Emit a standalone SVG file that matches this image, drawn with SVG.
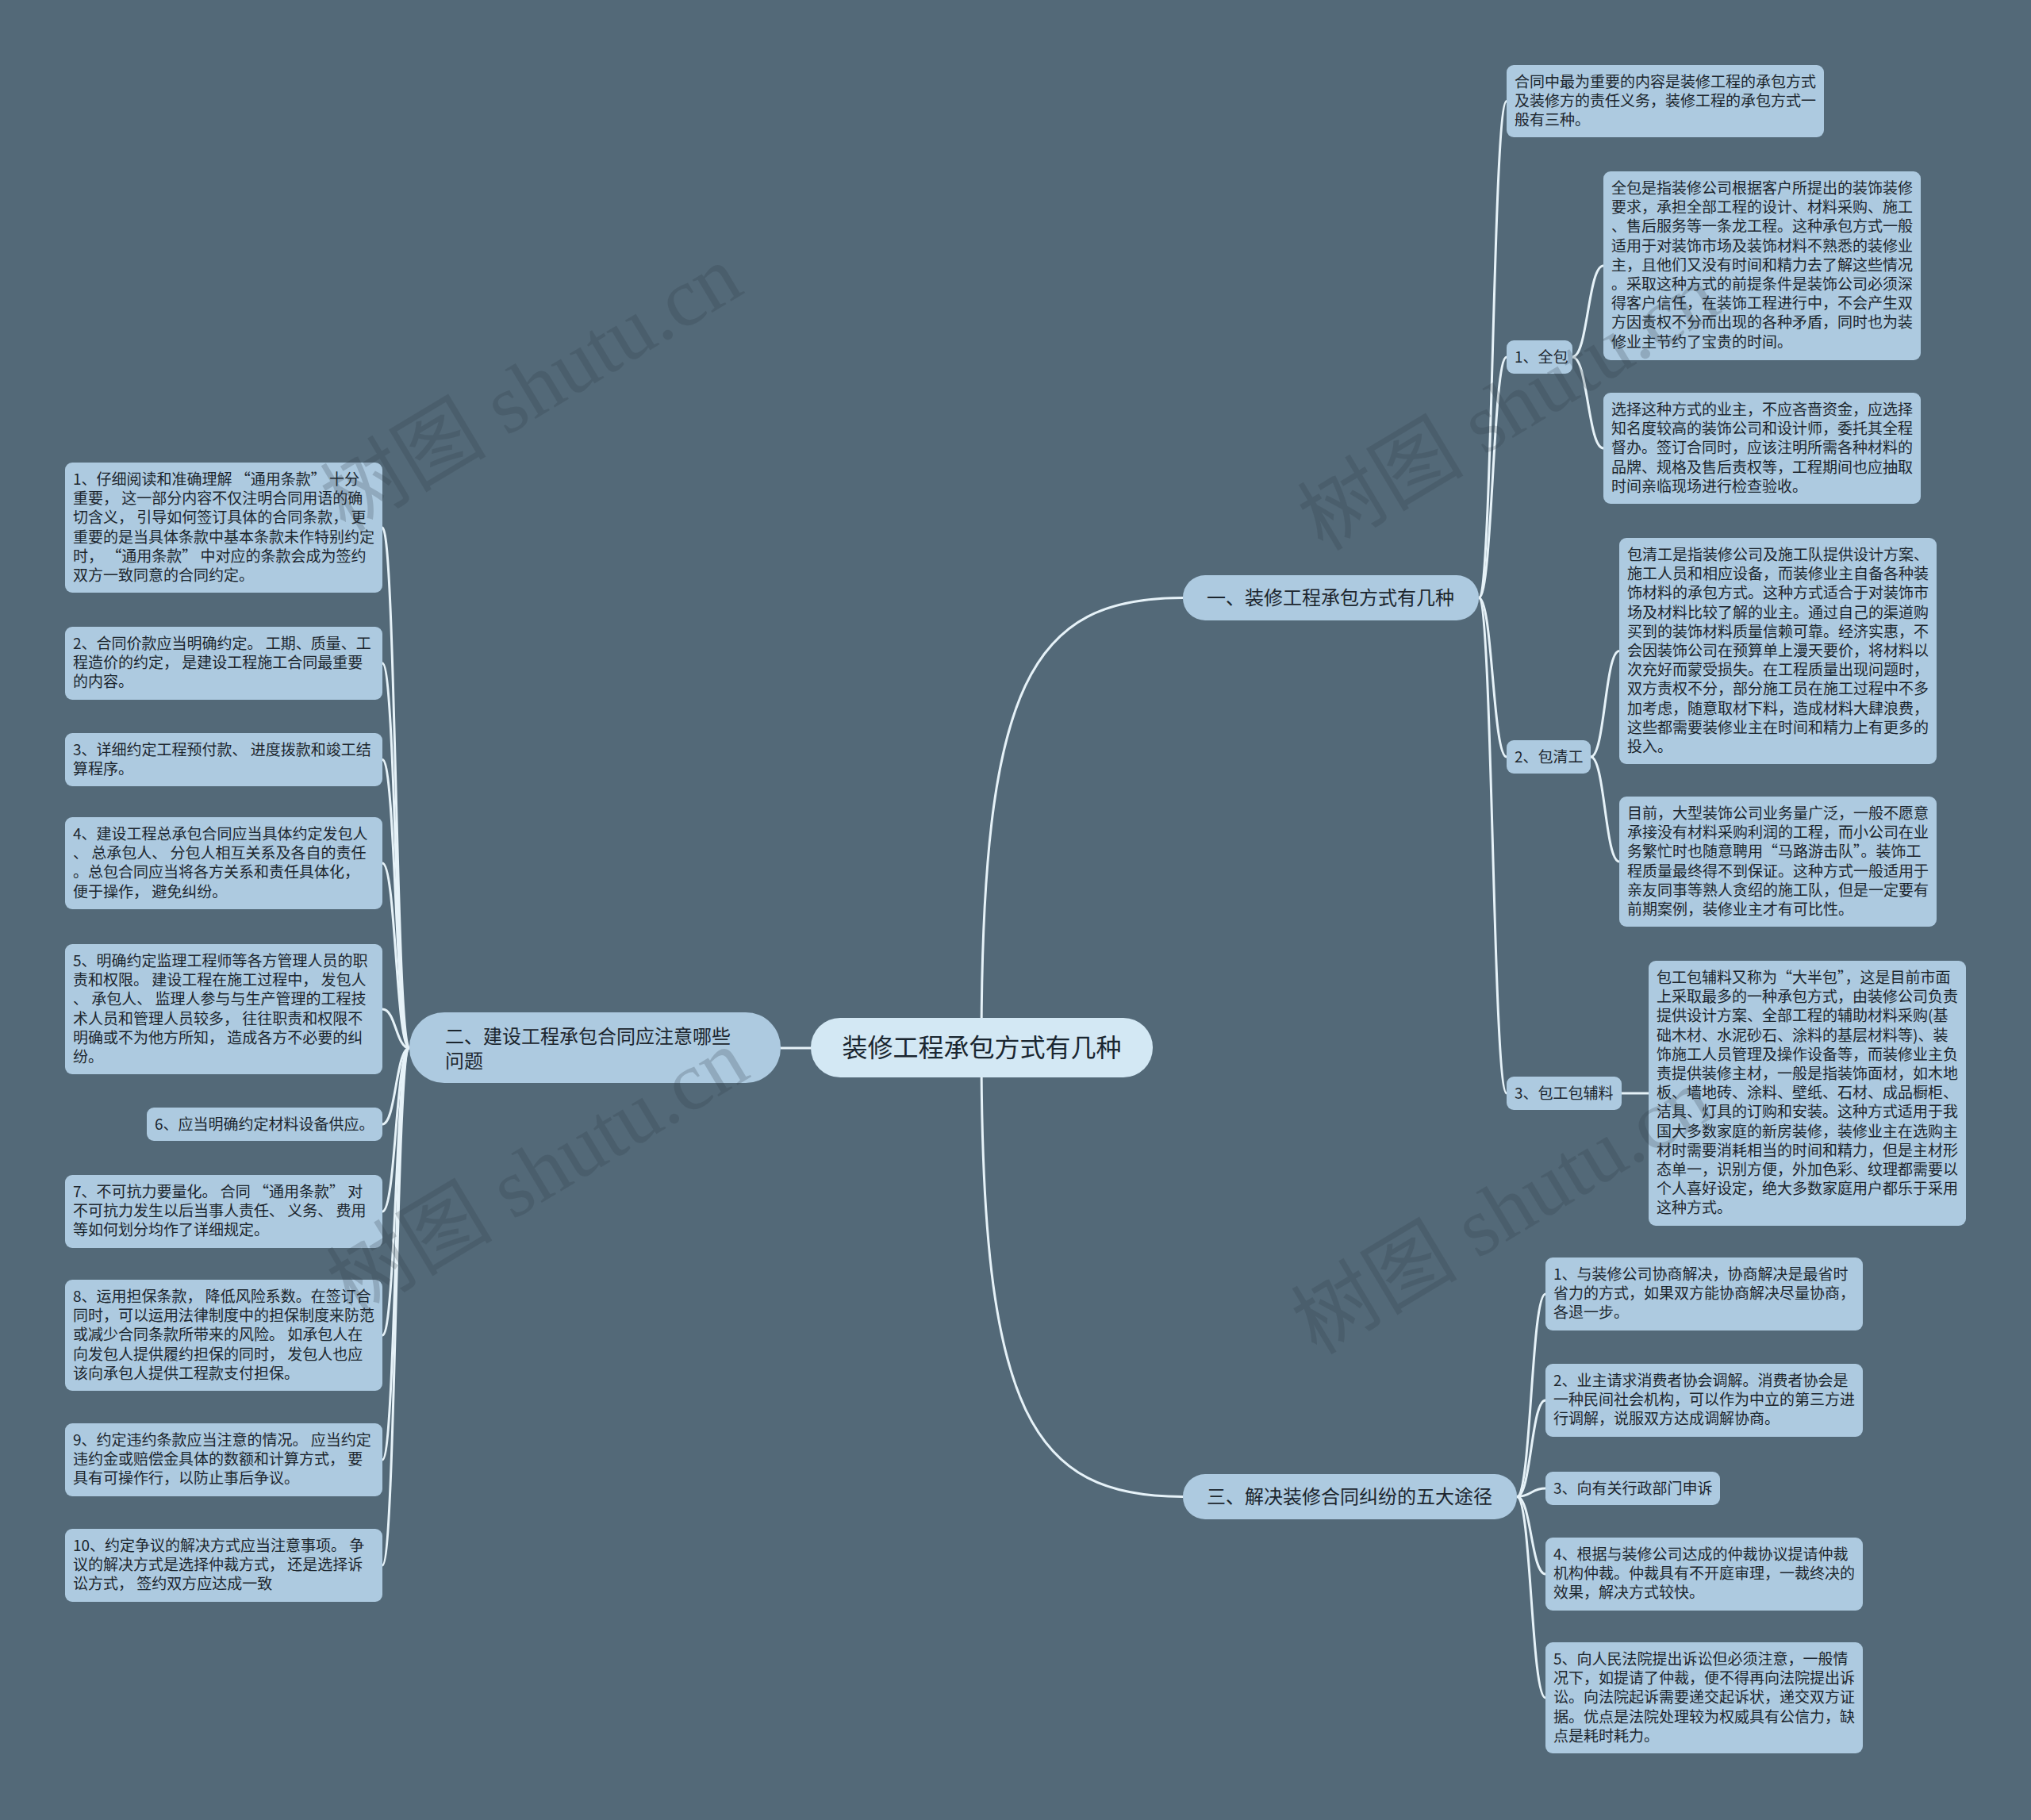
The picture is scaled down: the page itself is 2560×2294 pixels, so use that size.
<svg xmlns="http://www.w3.org/2000/svg" width="2560" height="2294" viewBox="0 0 2560 2294">
<style>
.bg{fill:#536978}
.box{fill:#adcae0}
.root{fill:#d3e8f4}
.t{font-family:"Noto Sans CJK SC","Noto Sans",sans-serif;font-size:19px;fill:#1c262e}
.t1{font-family:"Noto Sans CJK SC","Noto Sans",sans-serif;font-size:24px;fill:#1c262e}
.t0{font-family:"Noto Sans CJK SC","Noto Sans",sans-serif;font-size:32px;fill:#1a2630}
.link{fill:none;stroke:#e6f2f8;stroke-width:3}
.wm{font-family:"Liberation Serif","Noto Sans CJK SC",serif;font-size:105px;fill:#2e3a44;opacity:0.22}
</style>
<rect class="bg" x="0" y="0" width="2560" height="2294"/>
<g id="connectors">
<path class="link" d="M1237,1321 C1237,860 1300,753.5 1491,753.5"/>
<path class="link" d="M1237,1321 C1237,1780 1300,1886.5 1491,1886.5"/>
<path class="link" d="M984,1321 L1237,1321"/>
<path class="link" d="M1864,753.5 C1881.5,753.5 1881.5,127.5 1899,127.5"/>
<path class="link" d="M1864,753.5 C1881.5,753.5 1881.5,450 1899,450"/>
<path class="link" d="M1864,753.5 C1881.5,753.5 1881.5,954 1899,954"/>
<path class="link" d="M1864,753.5 C1881.5,753.5 1881.5,1378 1899,1378"/>
<path class="link" d="M1982,450 C2001.5,450 2001.5,335 2021,335"/>
<path class="link" d="M1982,450 C2001.5,450 2001.5,565 2021,565"/>
<path class="link" d="M2005,954 C2023,954 2023,820.5 2041,820.5"/>
<path class="link" d="M2005,954 C2023,954 2023,1086 2041,1086"/>
<path class="link" d="M2044,1378 L2078,1378"/>
<path class="link" d="M1912,1886.5 C1930,1886.5 1930,1631 1948,1631"/>
<path class="link" d="M1912,1886.5 C1930,1886.5 1930,1765 1948,1765"/>
<path class="link" d="M1912,1886.5 C1930,1886.5 1930,1876 1948,1876"/>
<path class="link" d="M1912,1886.5 C1930,1886.5 1930,1984 1948,1984"/>
<path class="link" d="M1912,1886.5 C1930,1886.5 1930,2140 1948,2140"/>
<path class="link" d="M516,1321 C499,1321 499,665 482,665"/>
<path class="link" d="M516,1321 C499,1321 499,836 482,836"/>
<path class="link" d="M516,1321 C499,1321 499,957.5 482,957.5"/>
<path class="link" d="M516,1321 C499,1321 499,1088 482,1088"/>
<path class="link" d="M516,1321 C499,1321 499,1272 482,1272"/>
<path class="link" d="M516,1321 C499,1321 499,1417 482,1417"/>
<path class="link" d="M516,1321 C499,1321 499,1527 482,1527"/>
<path class="link" d="M516,1321 C499,1321 499,1683 482,1683"/>
<path class="link" d="M516,1321 C499,1321 499,1840 482,1840"/>
<path class="link" d="M516,1321 C499,1321 499,1973 482,1973"/>
</g>
<g id="root">
<rect class="root" x="1022" y="1283" width="431" height="75" rx="37"/>
<text class="t0" x="1237.5" y="1332" text-anchor="middle">装修工程承包方式有几种</text>
</g>
<g id="n1">
<rect class="box" x="1491" y="725" width="373" height="57" rx="28"/>
<text class="t1" x="1521" y="762">一、装修工程承包方式有几种</text>
</g>
<g id="n2">
<rect class="box" x="516" y="1276" width="468" height="89" rx="44"/>
<text class="t1"><tspan x="561" y="1315">二、建设工程承包合同应注意哪些</tspan><tspan x="561" y="1346">问题</tspan></text>
</g>
<g id="n3">
<rect class="box" x="1491" y="1858" width="421" height="57" rx="28"/>
<text class="t1" x="1521" y="1895">三、解决装修合同纠纷的五大途径</text>
</g>
<g id="a">
<rect class="box" x="1899" y="82" width="400" height="91" rx="9"/>
<text class="t"><tspan x="1909" y="110">合同中最为重要的内容是装修工程的承包方式</tspan><tspan x="1909" y="134.2">及装修方的责任义务，装修工程的承包方式一</tspan><tspan x="1909" y="158.4">般有三种。</tspan></text>
</g>
<g id="z1">
<rect class="box" x="1899" y="429" width="83" height="42" rx="9"/>
<text class="t" x="1909" y="457">1、全包</text>
</g>
<g id="q1">
<rect class="box" x="2021" y="216" width="400" height="238" rx="9"/>
<text class="t"><tspan x="2031" y="244">全包是指装修公司根据客户所提出的装饰装修</tspan><tspan x="2031" y="268.2">要求，承担全部工程的设计、材料采购、施工</tspan><tspan x="2031" y="292.4">、售后服务等一条龙工程。这种承包方式一般</tspan><tspan x="2031" y="316.6">适用于对装饰市场及装饰材料不熟悉的装修业</tspan><tspan x="2031" y="340.8">主，且他们又没有时间和精力去了解这些情况</tspan><tspan x="2031" y="365">。采取这种方式的前提条件是装饰公司必须深</tspan><tspan x="2031" y="389.2">得客户信任，在装饰工程进行中，不会产生双</tspan><tspan x="2031" y="413.4">方因责权不分而出现的各种矛盾，同时也为装</tspan><tspan x="2031" y="437.6">修业主节约了宝贵的时间。</tspan></text>
</g>
<g id="q2">
<rect class="box" x="2021" y="495" width="400" height="140" rx="9"/>
<text class="t"><tspan x="2031" y="523">选择这种方式的业主，不应吝啬资金，应选择</tspan><tspan x="2031" y="547.2">知名度较高的装饰公司和设计师，委托其全程</tspan><tspan x="2031" y="571.4">督办。签订合同时，应该注明所需各种材料的</tspan><tspan x="2031" y="595.6">品牌、规格及售后责权等，工程期间也应抽取</tspan><tspan x="2031" y="619.8">时间亲临现场进行检查验收。</tspan></text>
</g>
<g id="z2">
<rect class="box" x="1899" y="933" width="106" height="42" rx="9"/>
<text class="t" x="1909" y="961">2、包清工</text>
</g>
<g id="b1">
<rect class="box" x="2041" y="678" width="400" height="285" rx="9"/>
<text class="t"><tspan x="2051" y="706">包清工是指装修公司及施工队提供设计方案、</tspan><tspan x="2051" y="730.2">施工人员和相应设备，而装修业主自备各种装</tspan><tspan x="2051" y="754.4">饰材料的承包方式。这种方式适合于对装饰市</tspan><tspan x="2051" y="778.6">场及材料比较了解的业主。通过自己的渠道购</tspan><tspan x="2051" y="802.8">买到的装饰材料质量信赖可靠。经济实惠，不</tspan><tspan x="2051" y="827">会因装饰公司在预算单上漫天要价，将材料以</tspan><tspan x="2051" y="851.2">次充好而蒙受损失。在工程质量出现问题时，</tspan><tspan x="2051" y="875.4">双方责权不分，部分施工员在施工过程中不多</tspan><tspan x="2051" y="899.6">加考虑，随意取材下料，造成材料大肆浪费，</tspan><tspan x="2051" y="923.8">这些都需要装修业主在时间和精力上有更多的</tspan><tspan x="2051" y="948">投入。</tspan></text>
</g>
<g id="b2">
<rect class="box" x="2041" y="1004" width="400" height="164" rx="9"/>
<text class="t"><tspan x="2051" y="1032">目前，大型装饰公司业务量广泛，一般不愿意</tspan><tspan x="2051" y="1056.2">承接没有材料采购利润的工程，而小公司在业</tspan><tspan x="2051" y="1080.4">务繁忙时也随意聘用“马路游击队”。装饰工</tspan><tspan x="2051" y="1104.6">程质量最终得不到保证。这种方式一般适用于</tspan><tspan x="2051" y="1128.8">亲友同事等熟人贪绍的施工队，但是一定要有</tspan><tspan x="2051" y="1153">前期案例，装修业主才有可比性。</tspan></text>
</g>
<g id="z3">
<rect class="box" x="1899" y="1357" width="145" height="42" rx="9"/>
<text class="t" x="1909" y="1385">3、包工包辅料</text>
</g>
<g id="c1">
<rect class="box" x="2078" y="1211" width="400" height="334" rx="9"/>
<text class="t"><tspan x="2088" y="1239">包工包辅料又称为“大半包”，这是目前市面</tspan><tspan x="2088" y="1263.2">上采取最多的一种承包方式，由装修公司负责</tspan><tspan x="2088" y="1287.4">提供设计方案、全部工程的辅助材料采购(基</tspan><tspan x="2088" y="1311.6">础木材、水泥砂石、涂料的基层材料等)、装</tspan><tspan x="2088" y="1335.8">饰施工人员管理及操作设备等，而装修业主负</tspan><tspan x="2088" y="1360">责提供装修主材，一般是指装饰面材，如木地</tspan><tspan x="2088" y="1384.2">板、墙地砖、涂料、壁纸、石材、成品橱柜、</tspan><tspan x="2088" y="1408.4">洁具、灯具的订购和安装。这种方式适用于我</tspan><tspan x="2088" y="1432.6">国大多数家庭的新房装修，装修业主在选购主</tspan><tspan x="2088" y="1456.8">材时需要消耗相当的时间和精力，但是主材形</tspan><tspan x="2088" y="1481">态单一，识别方便，外加色彩、纹理都需要以</tspan><tspan x="2088" y="1505.2">个人喜好设定，绝大多数家庭用户都乐于采用</tspan><tspan x="2088" y="1529.4">这种方式。</tspan></text>
</g>
<g id="s1">
<rect class="box" x="1948" y="1585" width="400" height="92" rx="9"/>
<text class="t"><tspan x="1958" y="1613">1、与装修公司协商解决，协商解决是最省时</tspan><tspan x="1958" y="1637.2">省力的方式，如果双方能协商解决尽量协商，</tspan><tspan x="1958" y="1661.4">各退一步。</tspan></text>
</g>
<g id="s2">
<rect class="box" x="1948" y="1719" width="400" height="92" rx="9"/>
<text class="t"><tspan x="1958" y="1747">2、业主请求消费者协会调解。消费者协会是</tspan><tspan x="1958" y="1771.2">一种民间社会机构，可以作为中立的第三方进</tspan><tspan x="1958" y="1795.4">行调解，说服双方达成调解协商。</tspan></text>
</g>
<g id="s3">
<rect class="box" x="1948" y="1855" width="220" height="42" rx="9"/>
<text class="t" x="1958" y="1883">3、向有关行政部门申诉</text>
</g>
<g id="s4">
<rect class="box" x="1948" y="1938" width="400" height="92" rx="9"/>
<text class="t"><tspan x="1958" y="1966">4、根据与装修公司达成的仲裁协议提请仲裁</tspan><tspan x="1958" y="1990.2">机构仲裁。仲裁具有不开庭审理，一裁终决的</tspan><tspan x="1958" y="2014.4">效果，解决方式较快。</tspan></text>
</g>
<g id="s5">
<rect class="box" x="1948" y="2070" width="400" height="140" rx="9"/>
<text class="t"><tspan x="1958" y="2098">5、向人民法院提出诉讼但必须注意，一般情</tspan><tspan x="1958" y="2122.2">况下，如提请了仲裁，便不得再向法院提出诉</tspan><tspan x="1958" y="2146.4">讼。向法院起诉需要递交起诉状，递交双方证</tspan><tspan x="1958" y="2170.6">据。优点是法院处理较为权威具有公信力，缺</tspan><tspan x="1958" y="2194.8">点是耗时耗力。</tspan></text>
</g>
<g id="l1">
<rect class="box" x="82" y="583" width="400" height="164" rx="9"/>
<text class="t"><tspan x="92" y="611">1、仔细阅读和准确理解 “通用条款” 十分</tspan><tspan x="92" y="635.2">重要， 这一部分内容不仅注明合同用语的确</tspan><tspan x="92" y="659.4">切含义， 引导如何签订具体的合同条款， 更</tspan><tspan x="92" y="683.6">重要的是当具体条款中基本条款未作特别约定</tspan><tspan x="92" y="707.8">时， “通用条款” 中对应的条款会成为签约</tspan><tspan x="92" y="732">双方一致同意的合同约定。</tspan></text>
</g>
<g id="l2">
<rect class="box" x="82" y="790" width="400" height="92" rx="9"/>
<text class="t"><tspan x="92" y="818">2、合同价款应当明确约定。 工期、质量、工</tspan><tspan x="92" y="842.2">程造价的约定， 是建设工程施工合同最重要</tspan><tspan x="92" y="866.4">的内容。</tspan></text>
</g>
<g id="l3">
<rect class="box" x="82" y="924" width="400" height="67" rx="9"/>
<text class="t"><tspan x="92" y="952">3、详细约定工程预付款、 进度拨款和竣工结</tspan><tspan x="92" y="976.2">算程序。</tspan></text>
</g>
<g id="l4">
<rect class="box" x="82" y="1030" width="400" height="116" rx="9"/>
<text class="t"><tspan x="92" y="1058">4、建设工程总承包合同应当具体约定发包人</tspan><tspan x="92" y="1082.2">、 总承包人、 分包人相互关系及各自的责任</tspan><tspan x="92" y="1106.4">。总包合同应当将各方关系和责任具体化，</tspan><tspan x="92" y="1130.6">便于操作， 避免纠纷。</tspan></text>
</g>
<g id="l5">
<rect class="box" x="82" y="1190" width="400" height="164" rx="9"/>
<text class="t"><tspan x="92" y="1218">5、明确约定监理工程师等各方管理人员的职</tspan><tspan x="92" y="1242.2">责和权限。 建设工程在施工过程中， 发包人</tspan><tspan x="92" y="1266.4">、 承包人、 监理人参与与生产管理的工程技</tspan><tspan x="92" y="1290.6">术人员和管理人员较多， 往往职责和权限不</tspan><tspan x="92" y="1314.8">明确或不为他方所知， 造成各方不必要的纠</tspan><tspan x="92" y="1339">纷。</tspan></text>
</g>
<g id="l6">
<rect class="box" x="185" y="1396" width="297" height="42" rx="9"/>
<text class="t" x="195" y="1424">6、应当明确约定材料设备供应。</text>
</g>
<g id="l7">
<rect class="box" x="82" y="1481" width="400" height="92" rx="9"/>
<text class="t"><tspan x="92" y="1509">7、不可抗力要量化。 合同 “通用条款” 对</tspan><tspan x="92" y="1533.2">不可抗力发生以后当事人责任、 义务、 费用</tspan><tspan x="92" y="1557.4">等如何划分均作了详细规定。</tspan></text>
</g>
<g id="l8">
<rect class="box" x="82" y="1613" width="400" height="140" rx="9"/>
<text class="t"><tspan x="92" y="1641">8、运用担保条款， 降低风险系数。在签订合</tspan><tspan x="92" y="1665.2">同时，可以运用法律制度中的担保制度来防范</tspan><tspan x="92" y="1689.4">或减少合同条款所带来的风险。 如承包人在</tspan><tspan x="92" y="1713.6">向发包人提供履约担保的同时， 发包人也应</tspan><tspan x="92" y="1737.8">该向承包人提供工程款支付担保。</tspan></text>
</g>
<g id="l9">
<rect class="box" x="82" y="1794" width="400" height="92" rx="9"/>
<text class="t"><tspan x="92" y="1822">9、约定违约条款应当注意的情况。 应当约定</tspan><tspan x="92" y="1846.2">违约金或赔偿金具体的数额和计算方式， 要</tspan><tspan x="92" y="1870.4">具有可操作行，以防止事后争议。</tspan></text>
</g>
<g id="l10">
<rect class="box" x="82" y="1927" width="400" height="92" rx="9"/>
<text class="t"><tspan x="92" y="1955">10、约定争议的解决方式应当注意事项。 争</tspan><tspan x="92" y="1979.2">议的解决方式是选择仲裁方式， 还是选择诉</tspan><tspan x="92" y="2003.4">讼方式， 签约双方应达成一致</tspan></text>
</g>
<g id="watermarks">
<text class="wm" x="670" y="525" text-anchor="middle" transform="rotate(-31 670 490)">树图 shutu.cn</text>
<text class="wm" x="1902" y="549" text-anchor="middle" transform="rotate(-31 1902 514)">树图 shutu.cn</text>
<text class="wm" x="678" y="1513" text-anchor="middle" transform="rotate(-31 678 1478)">树图 shutu.cn</text>
<text class="wm" x="1894" y="1562" text-anchor="middle" transform="rotate(-31 1894 1527)">树图 shutu.cn</text>
</g>
</svg>
